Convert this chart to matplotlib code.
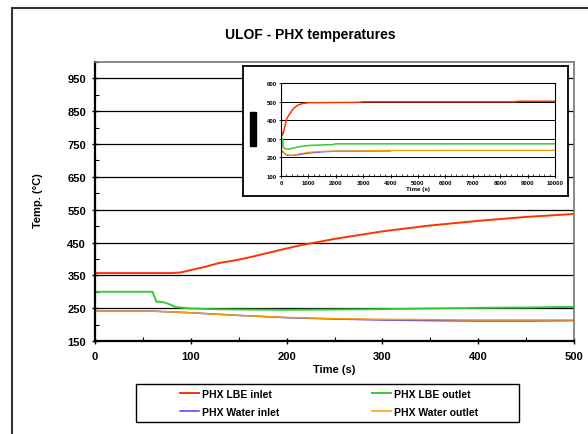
import numpy as np
import matplotlib.pyplot as plt
from matplotlib.patches import Rectangle
from matplotlib.ticker import MultipleLocator

plt.rcParams['font.family'] = ['Liberation Sans', 'DejaVu Sans']
plt.rcParams['font.weight'] = 'bold'

# main chart (0-500 s)
t_red = [0, 80, 90, 100, 115, 130, 145, 160, 180, 200, 215, 250, 300, 350, 400, 450, 500]
lbe_in = [357, 357, 359, 366, 376, 388, 395, 404, 418, 432, 442, 461, 484, 502, 516, 528, 537]

t_grn = [0, 60, 64, 70, 75, 85, 100, 120, 150, 200, 250, 300, 350, 400, 450, 500]
lbe_out = [300, 300, 270, 269, 265, 253, 249, 247, 246, 245, 246, 247, 249, 251, 252, 254]

t_wat = [0, 60, 100, 150, 200, 250, 300, 350, 400, 450, 500]
wat_in = [241, 241, 236, 228, 221, 217, 214, 212, 211, 211, 212]
wat_out = [241, 241, 236, 228, 222, 218, 216, 215, 214, 214, 214]

# inset (0-10000 s)
ti_red = [0, 50, 100, 200, 300, 450, 600, 800, 1000, 2000, 2800, 3000, 8500, 8700, 10000]
in_red = [350, 318, 340, 405, 430, 462, 480, 490, 494, 495, 496, 499, 499, 502, 502]
ti_grn = [0, 60, 80, 150, 300, 500, 700, 1000, 1500, 1900, 2000, 10000]
in_grn = [300, 300, 255, 246, 245, 252, 258, 264, 267, 269, 273, 273]
ti_org = [0, 100, 200, 350, 500, 700, 1000, 1400, 2000, 3000, 3500, 10000]
in_org = [243, 225, 215, 211, 213, 220, 227, 232, 234, 235, 237, 238]
ti_blu = [0, 100, 200, 350, 500, 700, 1000, 1500, 2000, 3000, 4000]
in_blu = [243, 224, 213, 210, 211, 216, 223, 230, 233, 234, 235]

c_red = '#ff3300'
c_grn = '#33cc33'
c_blu = '#4444ff'
c_org = '#ff9900'

W, H = 588, 435
fig = plt.figure(figsize=(W / 100, H / 100), dpi=100)

def fx(px):
    return px / W

def fy(py):
    return 1 - py / H

# outer frame
fig.add_artist(Rectangle((fx(12), -0.5), 2, 0.5 + fy(9), transform=fig.transFigure,
                         fill=False, ec='#333333', lw=1.5))

ax = fig.add_axes([fx(95), fy(342), fx(574) - fx(95), fy(63) - fy(342)])
ax.plot(t_red, lbe_in, color=c_red, lw=1.4, label='PHX LBE inlet')
ax.plot(t_wat, wat_in, color=c_blu, lw=1.1, label='PHX Water inlet')
ax.plot(t_grn, lbe_out, color=c_grn, lw=1.4, label='PHX LBE outlet')
ax.plot(t_wat, wat_out, color=c_org, lw=1.1, label='PHX Water outlet')
ax.set_xlim(0, 500)
ax.set_ylim(150, 1000)
ax.set_xticks(range(0, 501, 100))
ax.set_yticks(range(150, 951, 100))
ax.xaxis.set_minor_locator(MultipleLocator(50))
ax.set_yticks(range(200, 1001, 100), minor=True)
ax.yaxis.grid(True, which='major', color='black', lw=0.9)
ax.tick_params(which='major', direction='inout', length=5, width=1, labelsize=8)
ax.tick_params(which='minor', direction='in', length=3, width=0.8)
ax.tick_params(axis='x', pad=5)
ax.tick_params(axis='y', pad=4)
for s in ['left', 'bottom']:
    ax.spines[s].set_linewidth(1.6)
for s in ['top', 'right']:
    ax.spines[s].set_color('#777777')
    ax.spines[s].set_linewidth(1.2)
ax.set_xlabel('Time (s)', fontsize=8, fontweight='bold', labelpad=2)
fig.text(fx(38), fy(201), 'Temp. (°C)', rotation=90, ha='center', va='center',
         fontsize=8, fontweight='bold')
fig.text(fx(310), fy(35), 'ULOF - PHX temperatures', ha='center', va='center',
         fontsize=10, fontweight='bold')

# legend
fig.add_artist(Rectangle((fx(136), fy(423)), fx(519) - fx(136), fy(385) - fy(423),
                         transform=fig.transFigure, fill=False, ec='black', lw=1))
h, l = ax.get_legend_handles_labels()
fig.legend(h, l, ncol=2, loc='center', bbox_to_anchor=(fx(329), fy(404)),
           frameon=False, handlelength=1.8, handletextpad=0.3,
           columnspacing=8.9, labelspacing=0.75, prop={'weight': 'bold', 'size': 7.5})

# inset frame
box = fig.add_axes([fx(243), fy(197), fx(568) - fx(243), fy(67) - fy(197)])
box.set_xticks([])
box.set_yticks([])
for s in box.spines.values():
    s.set_linewidth(1.3)
fig.add_artist(Rectangle((fx(250), fy(147)), fx(256) - fx(250), fy(113) - fy(147),
                         transform=fig.transFigure, color='black', zorder=5))

ins = fig.add_axes([fx(281), fy(177), fx(555) - fx(281), fy(84) - fy(177)])
ins.plot(ti_red, in_red, color=c_red, lw=1.1)
ins.plot(ti_grn, in_grn, color=c_grn, lw=1.1)
ins.plot(ti_blu, in_blu, color=c_blu, lw=0.9)
ins.plot(ti_org, in_org, color=c_org, lw=0.9)
ins.set_xlim(0, 10000)
ins.set_ylim(100, 600)
ins.set_xticks(range(0, 10001, 1000))
ins.set_yticks(range(100, 601, 100))
ins.xaxis.set_minor_locator(MultipleLocator(200))
ins.yaxis.grid(True, color='black', lw=0.7)
ins.tick_params(which='major', direction='inout', length=2.5, width=0.6, labelsize=4.3, pad=1.5)
ins.tick_params(which='minor', direction='in', length=1.2, width=0.5)
ins.set_xlabel('Time (s)', fontsize=4.5, fontweight='bold', labelpad=1)
for s in ins.spines.values():
    s.set_linewidth(0.8)

fig.savefig('out.png', dpi=100)
